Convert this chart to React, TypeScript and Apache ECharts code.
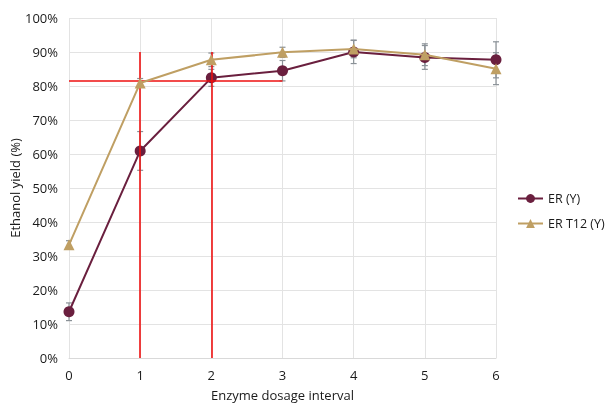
import React, { useEffect, useRef } from "react";
import * as echarts from "echarts";

const dosage = [0, 1, 2, 3, 4, 5, 6];
const erY = [13.6, 60.9, 82.4, 84.5, 90.0, 88.4, 87.7];
const erErr = [2.6, 5.7, 2.5, 3.0, 3.4, 3.5, 5.3];
const t12Y = [33.3, 80.9, 87.7, 89.9, 90.9, 89.2, 85.1];
const t12Err = [1.2, 1.3, 2.0, 1.5, 2.6, 3.2, 4.7];
const yTicks = [0, 10, 20, 30, 40, 50, 60, 70, 80, 90, 100];
const refVertical = [1, 2];
const refTop = 90;
const refHorizontal = 81.5;
const refHorizontalEnd = 3;

const FONT = "'Open Sans', 'DejaVu Sans', sans-serif";
const MAROON = "#6a1f3e";
const TAN = "#bf9f63";
const ERR = "#8a9197";
const TXT = "#1a1a1a";

function errorSeries(name: string, ys: number[], errs: number[]) {
  return {
    type: "custom",
    name,
    silent: true,
    z: 1,
    data: dosage.map((x, i) => [x, ys[i] - errs[i], ys[i] + errs[i]]),
    renderItem: (params: any, api: any) => {
      const lo = api.coord([api.value(0), api.value(1)]);
      const hi = api.coord([api.value(0), api.value(2)]);
      const w = 3;
      const style = { stroke: ERR, lineWidth: 1.2 };
      return {
        type: "group",
        children: [
          { type: "line", shape: { x1: lo[0], y1: lo[1], x2: hi[0], y2: hi[1] }, style },
          { type: "line", shape: { x1: lo[0] - w, y1: lo[1], x2: lo[0] + w, y2: lo[1] }, style },
          { type: "line", shape: { x1: hi[0] - w, y1: hi[1], x2: hi[0] + w, y2: hi[1] }, style },
        ],
      };
    },
  };
}

export default function App() {
  const ref = useRef<HTMLDivElement>(null);
  useEffect(() => {
    const chart = echarts.init(ref.current!, null, { renderer: "svg" });
    const refLines: any[] = [
      ...refVertical.map((x) => [{ coord: [x, 0] }, { coord: [x, refTop] }]),
      [{ coord: [0, refHorizontal] }, { coord: [refHorizontalEnd, refHorizontal] }],
    ];
    chart.setOption({
      animation: false,
      textStyle: { fontFamily: FONT },
      grid: { left: 69, right: 113, top: 18, bottom: 45, outerBoundsMode: "none", containLabel: false },
      legend: {
        orient: "vertical",
        left: 512,
        top: 187,
        itemWidth: 25,
        itemHeight: 11,
        itemGap: 12,
        textStyle: { fontFamily: FONT, fontSize: 12.5, color: TXT },
        data: ["ER (Y)", "ER T12 (Y)"],
      },
      xAxis: {
        type: "value",
        min: 0,
        max: 6,
        interval: 1,
        name: "Enzyme dosage interval",
        nameLocation: "middle",
        nameGap: 30,
        nameMoveOverlap: false,
        nameTextStyle: { fontFamily: FONT, fontSize: 13, color: TXT },
        axisLine: { show: true, lineStyle: { color: "#d9d9d9" } },
        axisTick: { show: false },
        axisLabel: { fontFamily: FONT, fontSize: 13, color: TXT, margin: 10 },
        splitLine: { show: true, lineStyle: { color: "#e3e3e3" } },
      },
      yAxis: {
        type: "value",
        min: 0,
        max: 100,
        interval: 10,
        name: "Ethanol yield (%)",
        nameLocation: "middle",
        nameGap: 48,
        nameMoveOverlap: false,
        nameTextStyle: { fontFamily: FONT, fontSize: 13, color: TXT },
        axisLine: { show: false },
        axisTick: { show: false },
        axisLabel: {
          fontFamily: FONT,
          fontSize: 13,
          color: TXT,
          margin: 11,
          formatter: (v: number) => (yTicks.includes(v) ? v + "%" : ""),
        },
        splitLine: { show: true, lineStyle: { color: "#e3e3e3" } },
      },
      series: [
        {
          type: "line",
          name: "refs",
          data: [],
          silent: true,
          z: 3,
          markLine: {
            symbol: "none",
            silent: true,
            label: { show: false },
            lineStyle: { color: "#ee1111", width: 1.6, type: "solid" },
            data: refLines,
          },
        },
        errorSeries("errER", erY, erErr),
        errorSeries("errT12", t12Y, t12Err),
        {
          type: "line",
          name: "ER (Y)",
          data: dosage.map((x, i) => [x, erY[i]]),
          symbol: "circle",
          symbolSize: 11,
          lineStyle: { color: MAROON, width: 2 },
          itemStyle: { color: MAROON },
          z: 4,
        },
        {
          type: "line",
          name: "ER T12 (Y)",
          data: dosage.map((x, i) => [x, t12Y[i]]),
          symbol: "triangle",
          symbolSize: 11,
          lineStyle: { color: TAN, width: 2 },
          itemStyle: { color: TAN },
          z: 5,
        },
      ],
    });
    return () => chart.dispose();
  }, []);
  return (
    <div
      ref={ref}
      style={{ position: "fixed", left: 0, top: 0, width: 609, height: 403 }}
    />
  );
}
